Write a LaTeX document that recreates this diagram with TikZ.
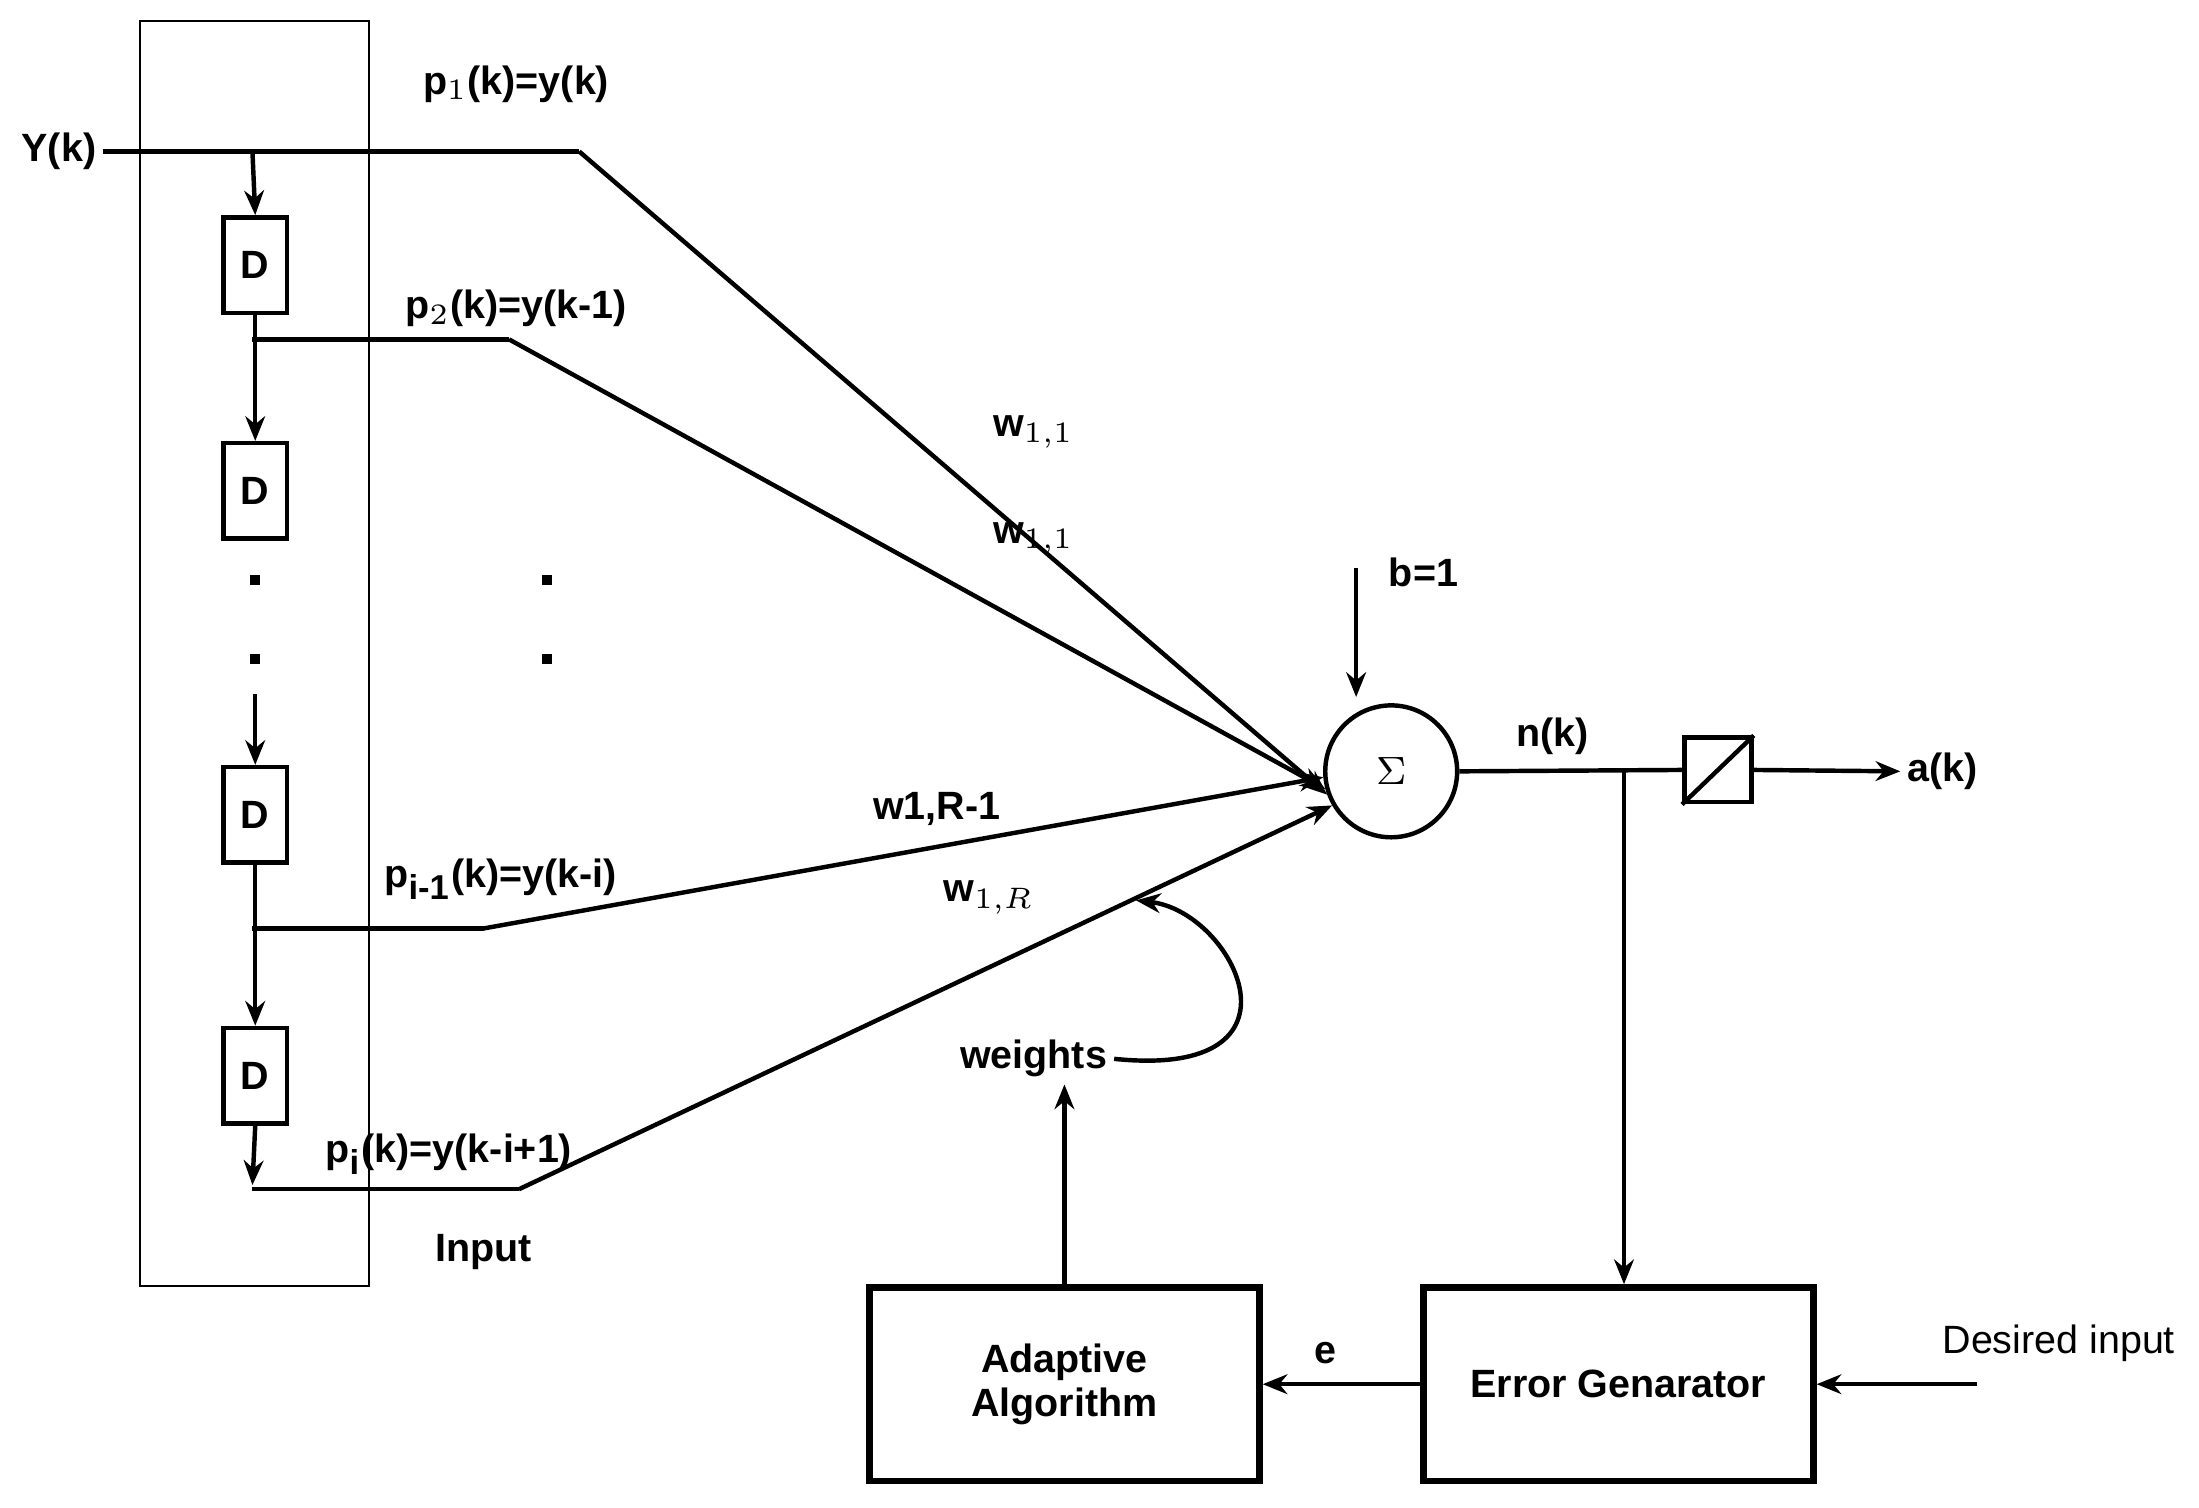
\documentclass[tikz,border=0pt]{standalone}
\usepackage{fontspec}
\setmainfont{Liberation Sans}
\usetikzlibrary{arrows.meta}
\begin{document}
\begin{tikzpicture}[x=0.01cm,y=-0.01cm,font=\bfseries\fontsize{8}{9}\selectfont,
	line width=0.9pt, >={Stealth[length=5pt,width=4pt]}]
			\tikzset{dbox/.style={draw, minimum width=0.45cm, minimum height=0.68cm, inner sep=0},
				blok/.style={draw, line width=1.3pt, minimum width=2.78cm, minimum height=1.38cm, align=center},
				lbl/.style={inner sep=1pt}}
			\useasboundingbox (0,0) rectangle (1568,1075);

			\draw[line width=0.5pt] (100,15) rectangle (263,917);
			\node[dbox] at (182,189) (d1) {D};
			\node[dbox] at (182,350) (d2) {D};
			\node[dbox] at (182,581) (d3) {D};
			\node[dbox] at (182,767) (d4) {D};
			\node[circle, draw, minimum size=0.94cm] at (992,550) (sum) {$\Sigma$};
			\node[draw, minimum width=0.48cm, minimum height=0.46cm, inner sep=0] at (1225,549) (act) {};
			\draw (act.south west) -- (act.north east);
			\node[blok] at (759,987) (adapt) {Adaptive\\Algorithm};
			\node[blok] at (1154,987) (errgen) {Error Genarator};

			\node[lbl] at (42,108) (y) {Y(k)};
			\node[lbl] at (368,60) {p$_1$(k)=y(k)};
			\node[lbl] at (368,220) {p$_2$(k)=y(k-1)};
			\node[lbl] at (357,627) {p$_{\mbox{\scriptsize i-1}}$(k)=y(k-i)};
			\node[lbl] at (320,823) {p$_{\mbox{\scriptsize i}}$(k)=y(k-i+1)};
			\node[lbl] at (737,308) {w$_{1,1}$};
			\node[lbl] at (737,384) {w$_{1,1}$};
			\node[lbl] at (668,577) {w1,R-1};
			\node[lbl] at (705,640) {w$_{1,R}$};
			\node[lbl] at (345,893) {Input};
			\node[lbl] at (1015,408) {b=1};
			\node[lbl] at (1107,525) {n(k)};
			\node[lbl, anchor=west] at (1355,550) (a) {a(k)};
			\node[lbl] at (737,755) (w) {weights};
			\node[lbl] at (945,965) {e};
			\node[lbl, font=\fontsize{8}{9}\selectfont] at (1468,958) (des) {Desired input};

			\coordinate (t1) at (180,108);
			\coordinate (t2) at (180,242);
			\coordinate (t3) at (180,662);
			\coordinate (t4) at (180,848);
			\coordinate (k1) at (413,108);
			\coordinate (k2) at (363,242);
			\coordinate (k3) at (345,662);
			\coordinate (k4) at (370,848);
			\coordinate (b) at (967,405);
			\coordinate (bt) at (967,497);
			\coordinate (n) at (1158,548);
			\coordinate (d) at (1410,987);

			% delay line
			\draw (y.east) -- (k1);
			\draw[->] (t1) -- (d1.north);
			\draw[->] (d1.south) -- (d2.north);
			\draw (t2) -- (k2);
			\draw[line width=2pt, dash pattern=on 2pt off 14pt] (182,410) -- (182,500);
			\draw[line width=2pt, dash pattern=on 2pt off 14pt] (390,410) -- (390,500);
			\draw[->] (182,495) -- (d3.north);
			\draw[->] (d3.south) -- (d4.north);
			\draw (t3) -- (k3);
			\draw[->] (d4.south) -- (180,845);
			\draw (t4) -- (k4);

			% weights into sum
			\draw[->] (k1) -- (sum.200);
			\draw[->] (k2) -- (sum.195);
			\draw[->] (k3) -- (sum.185);
			\draw[->] (k4) -- (sum.210);
			\draw[->] (b) -- (bt);

			% output and feedback
			\draw (sum.east) -- (act.west);
			\draw[->] (act.east) -- (a.west);
			\draw[->] (n) -- (errgen.north -| n);
			\draw[->] (d) -- (errgen.east);
			\draw[->] (errgen.west) -- (adapt.east);
			\draw[->] (adapt.north) -- (w.south -| adapt.north);
			\draw[->] (w.east) .. controls (940,770) and (880,650) .. (810,642);
		\end{tikzpicture}
\end{document}
